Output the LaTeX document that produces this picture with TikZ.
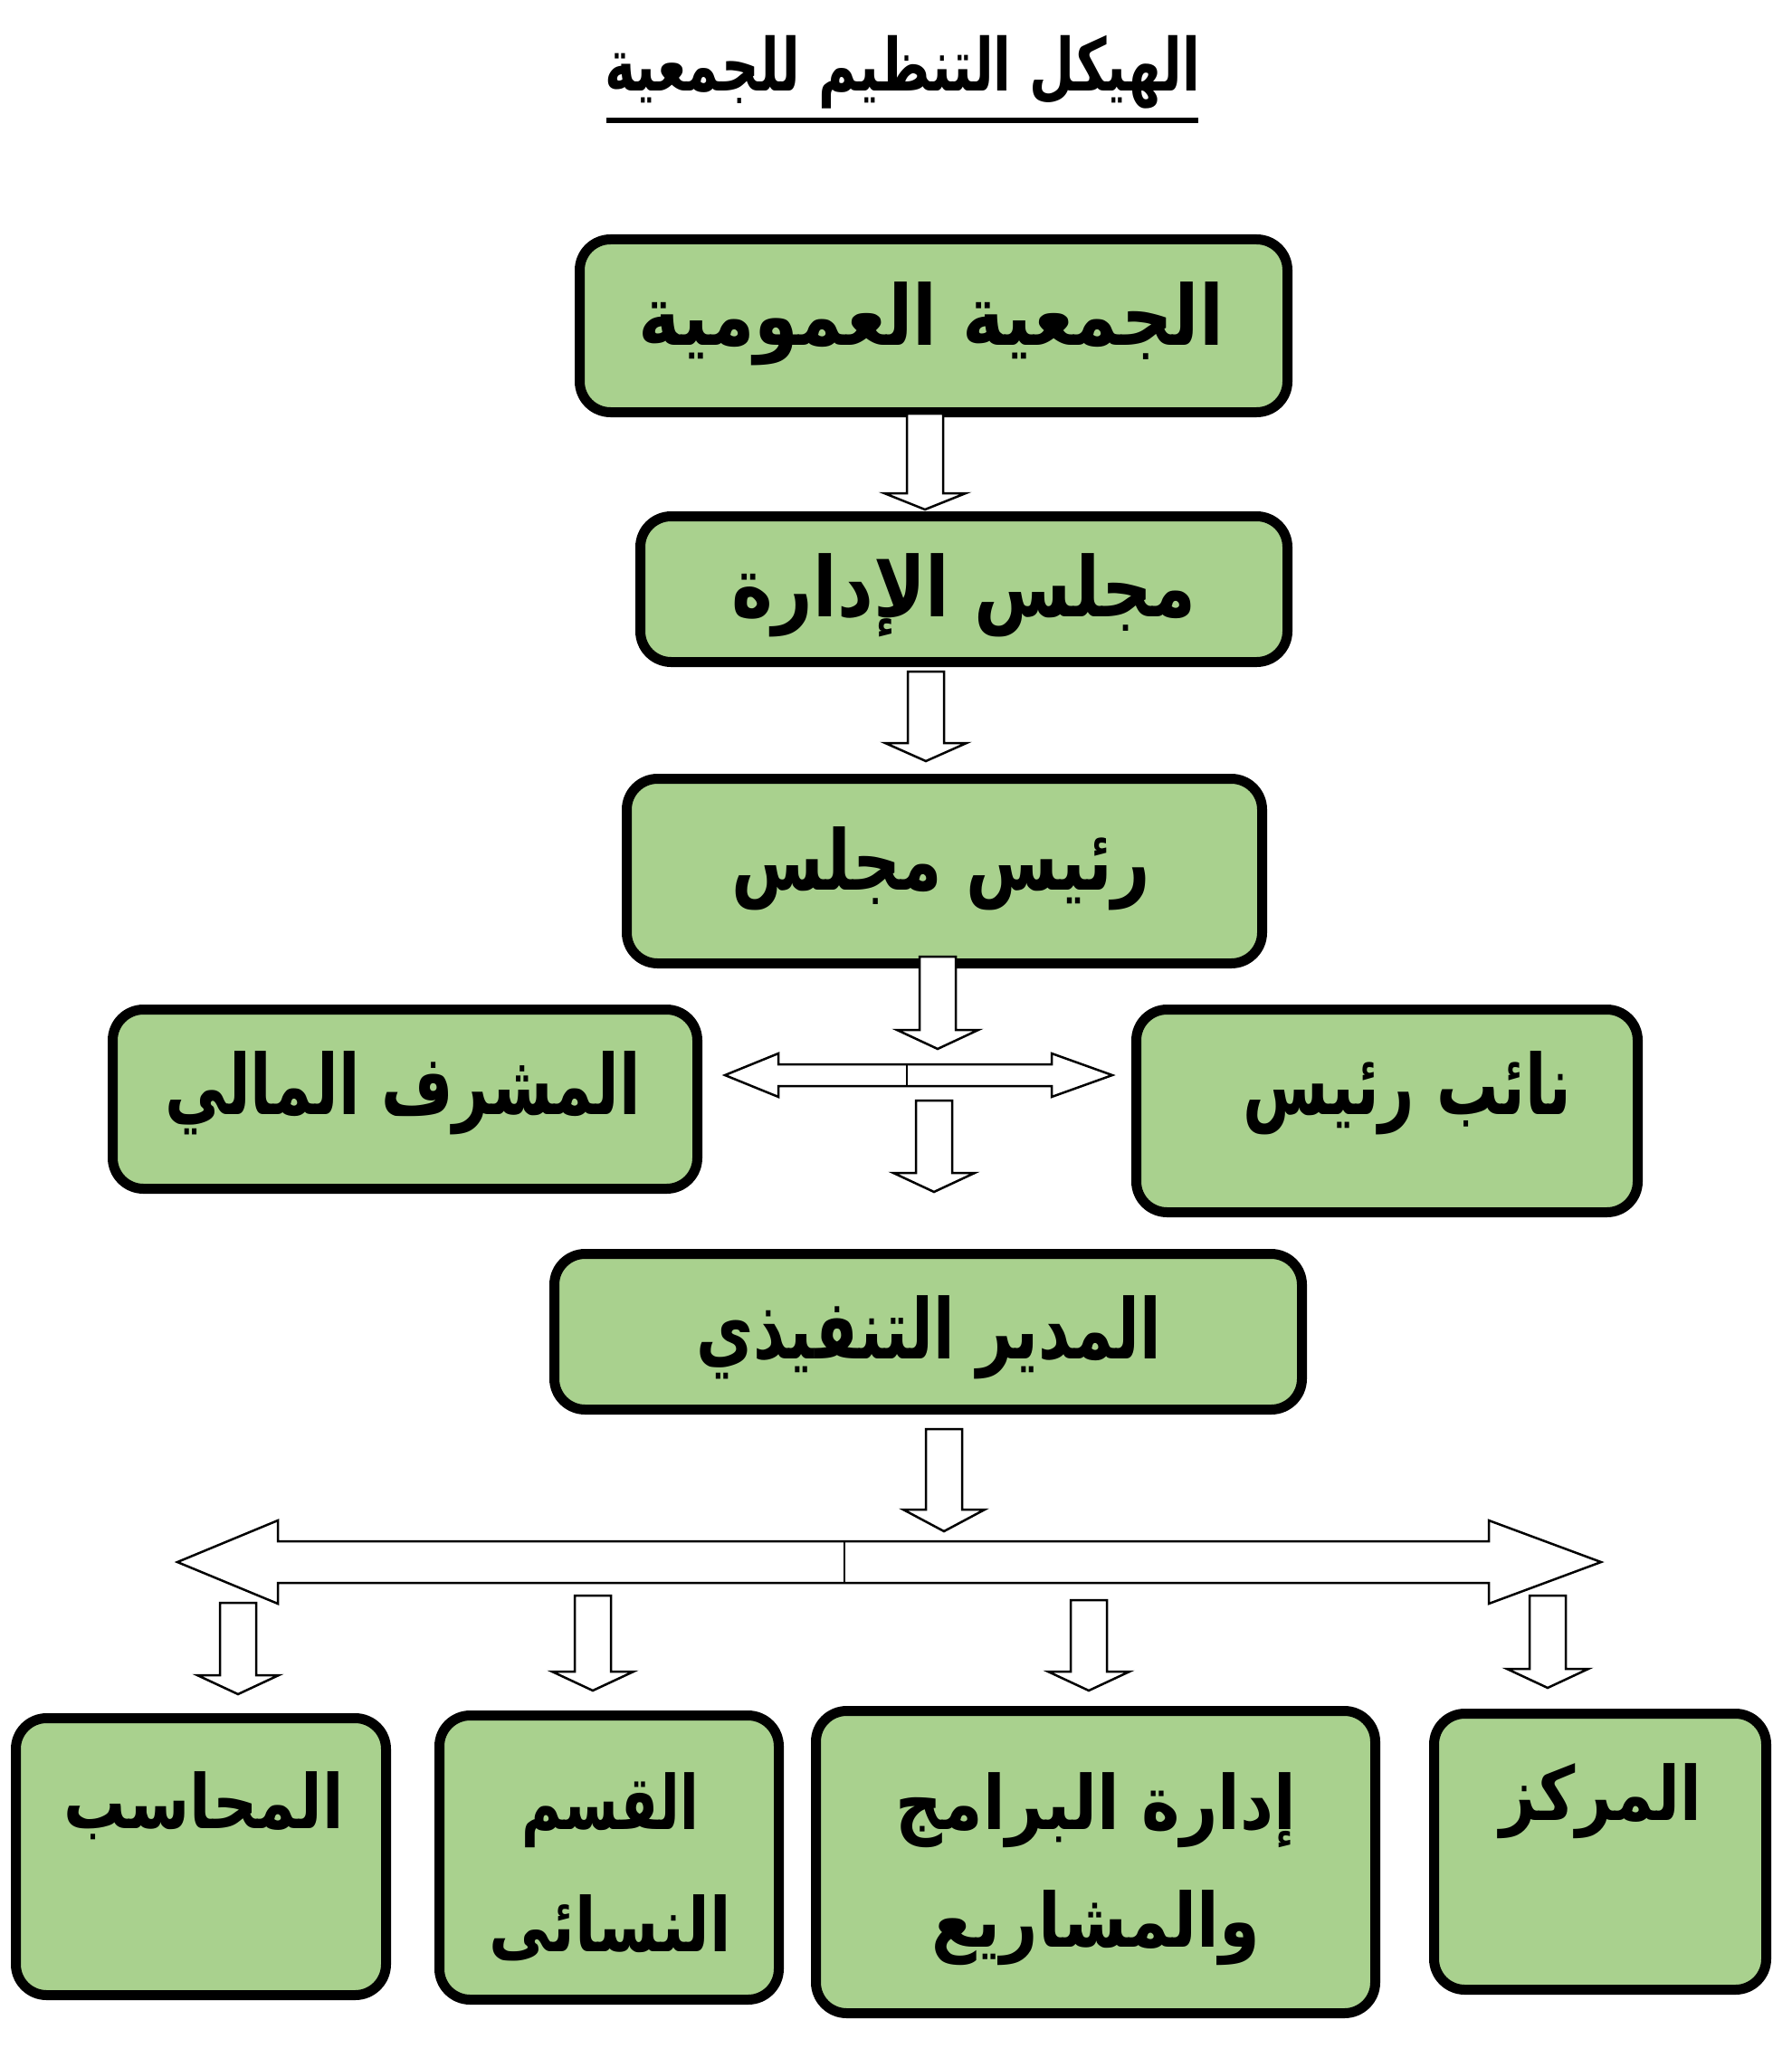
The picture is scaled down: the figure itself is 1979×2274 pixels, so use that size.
\documentclass[tikz,border=0pt]{standalone}
\usepackage{fontspec}
\usepackage{graphicx}
\TeXXeTstate=1
\newfontfamily\arabicfont[Script=Arabic]{DejaVu Sans}
\definecolor{boxgreen}{RGB}{169,209,142}
\tikzset{
  orgbox/.style={draw=black, line width=11pt, fill=boxgreen, rounded corners=34pt, inner sep=0pt, shape=rectangle},
  blockarrow/.style={draw=black, line width=2.5pt, fill=white, line join=miter},
  lbl/.style={inner sep=0pt, text=black, font=\arabicfont\bfseries\fontsize{80}{150}\selectfont, align=center},
  smalllbl/.style={inner sep=0pt, text=black, font=\arabicfont\bfseries\fontsize{72}{130}\selectfont, align=center},
}
% text scaled horizontally (#1) and vertically (#2)
\newcommand\artext[3]{\scalebox{#1}[#2]{#3}}
% box: name, x1, y1, x2, y2 (outer edges, pixels)
\newcommand\obox[5]{%
  \node[orgbox, minimum width={#4pt-#2pt-11pt}, minimum height={#5pt-#3pt-11pt}]
    (#1) at ({(#2+#4)/2},{(#3+#5)/2}) {};}
% down block arrow: cx, ytop, yhead, ytip
\newcommand\darrow[4]{%
  \draw[blockarrow] ({#1-20},#2) -- ({#1+20},#2) -- ({#1+20},#3) -- ({#1+45},#3)
    -- (#1,#4) -- ({#1-45},#3) -- ({#1-20},#3) -- cycle;}
\begin{document}
\begin{tikzpicture}[x=1pt,y=-1pt]
\useasboundingbox (0,0) rectangle (1979,2274);
\fill[white] (0,0) rectangle (1979,2274);

% title
\node[inner sep=0pt, font=\arabicfont\bfseries\fontsize{62}{70}\selectfont] (title) at (997,80)
  {\artext{0.93}{1.3}{\beginR الهيكل التنظيم للجمعية\endR}};
\draw[line width=6pt] (670,133) -- (1324,133);

% boxes
\obox{b1}{635}{259}{1428}{461}
\obox{b2}{702}{565}{1428}{737}
\obox{b3}{687}{855}{1400}{1070}
\obox{bl}{119}{1110}{776}{1319}
\obox{br}{1250}{1110}{1815}{1345}
\obox{b4}{607}{1380}{1444}{1563}
\obox{c1}{12}{1893}{432}{2210}
\obox{c2}{480}{1890}{866}{2215}
\obox{c3}{896}{1885}{1525}{2230}
\obox{c4}{1579}{1888}{1957}{2204}

% labels
\node[lbl] (t1) at (1029,358) {\artext{0.98}{1.15}{\beginR الجمعية العمومية\endR}};
\node[lbl] (t2) at (1065,658) {\artext{0.97}{1.15}{\beginR مجلس الإدارة\endR}};
\node[lbl] (t3) at (1040,960) {\artext{0.92}{1.15}{\beginR رئيس مجلس\endR}};
\node[lbl] (tl) at (445,1208) {\artext{0.855}{1.15}{\beginR المشرف المالي\endR}};
\node[lbl] (tr) at (1555,1208) {\artext{0.855}{1.15}{\beginR نائب رئيس\endR}};
\node[lbl] (t4) at (1026,1478) {\artext{0.86}{1.15}{\beginR المدير التنفيذي\endR}};
\node[smalllbl] (u1) at (225,1995) {\artext{0.95}{1.15}{\beginR المحاسب\endR}};
\node[smalllbl] (u2a) at (674,2000) {\artext{0.84}{1.15}{\beginR القسم\endR}};
\node[smalllbl] (u2b) at (674,2130) {\artext{0.95}{1.15}{\beginR النسائى\endR}};
\node[smalllbl] (u3a) at (1211,2000) {\artext{1.0}{1.15}{\beginR إدارة البرامج\endR}};
\node[smalllbl] (u3b) at (1211,2130) {\artext{1.0}{1.15}{\beginR والمشاريع\endR}};
\node[smalllbl] (u4) at (1769,1990) {\artext{0.96}{1.15}{\beginR المركز\endR}};

% connectors (block arrows)
\darrow{1022}{457}{545}{563}
\darrow{1023}{742}{821}{841}
\darrow{1036}{1057}{1138}{1159}
\darrow{1032}{1216}{1296}{1317}
\darrow{1043}{1579}{1668}{1692}
\darrow{263}{1771}{1851}{1872}
\darrow{655}{1763}{1847}{1868}
\darrow{1203}{1768}{1847}{1868}
\darrow{1710}{1763}{1844}{1865}

% horizontal double arrow (upper)
\draw[blockarrow] (801,1188) -- (860,1164) -- (860,1176) -- (1162,1176) -- (1162,1164)
  -- (1229,1188) -- (1162,1212) -- (1162,1200) -- (860,1200) -- (860,1212) -- cycle;
\draw[line width=2.5pt] (1002,1176) -- (1002,1200);

% big double arrow (lower)
\draw[blockarrow] (196,1726) -- (307,1680) -- (307,1703) -- (1645,1703) -- (1645,1680)
  -- (1769,1726) -- (1645,1772) -- (1645,1749) -- (307,1749) -- (307,1772) -- cycle;
\draw[line width=2.5pt] (933,1703) -- (933,1749);
\end{tikzpicture}
\end{document}
